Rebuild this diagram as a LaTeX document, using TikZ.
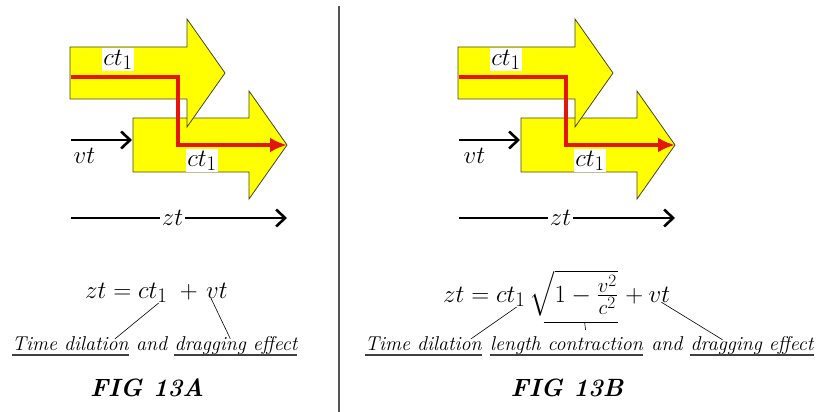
\documentclass[tikz,border=0pt]{standalone}
\usepackage{amsmath}
\usepackage{tikz}
\usetikzlibrary{arrows.meta,positioning,calc}
\definecolor{frameyellow}{RGB}{255,255,0}
\definecolor{frameedge}{RGB}{70,70,30}
\definecolor{lightred}{RGB}{228,22,10}
\definecolor{divgray}{RGB}{85,85,85}

\begin{document}
\begin{tikzpicture}[
  x=1pt, y=-1pt,
  frame/.style={fill=frameyellow, draw=frameedge, line width=0.8pt},
  lightpath/.style={draw=lightred, line width=4pt,
                    -{Latex[length=17pt,width=15pt]}},
  motion/.style={line width=2.6pt, -{Straight Barb[length=9pt,width=17pt]}},
  sym/.style={font=\fontsize{24.88}{30}\selectfont, inner sep=1.5pt},
  eq/.style={font=\fontsize{24.88}{30}\selectfont, inner sep=0pt},
  note/.style={font=\fontsize{20}{24}\selectfont\itshape, inner sep=0pt},
  fig/.style={font=\fontsize{25}{30}\selectfont\bfseries\itshape},
  lead/.style={line width=0.6pt},
  uline/.style={line width=1.2pt, draw=black!75}
]
\useasboundingbox (0,0) rectangle (823,412);

% --- Divider ---
\draw[divgray, line width=1.6pt] (339,6) -- (339,412);

% ===== FIG 13A =====
% --- moving frames ---
\draw[frame] (133,118) -- (249,118) -- (249,91) -- (287,145) -- (249,199)
  -- (249,172) -- (133,172) -- cycle;
\draw[frame] (70,47) -- (187,47) -- (187,19) -- (225,73) -- (187,127)
  -- (187,99) -- (70,99) -- cycle;

\node[sym, fill=white, anchor=north] (ctTopA) at (118,48) {$ct_1$};
\node[sym, fill=white, anchor=north] (ctLowA) at (202,149) {$ct_1$};

% --- light path ---
\coordinate (lpStartA) at (71,77);
\coordinate (lpTurnA) at (178,145);
\coordinate (lpEndA) at (287,145);
\draw[lightpath] (lpStartA) -| (lpTurnA) -- (lpEndA);

% --- vt and zt ---
\coordinate (vtStartA) at (71,140);
\coordinate (vtEndA) at (132,140);
\draw[motion] (vtStartA) -- (vtEndA);
\node[sym, anchor=north west] (vtA) at (72,146) {$vt$};

\coordinate (ztStartA) at (71,218);
\coordinate (ztEndA) at (287,218);
\draw[motion] (ztStartA) -- node[sym, fill=white, pos=0.47] (ztA) {$zt$} (ztEndA);

% --- equation ---
\node[eq, anchor=base west] (eqA) at (85,298) {$zt = ct_1$};
\node[eq, base right=12pt of eqA] (plusA) {$+$};
\node[eq, base right=8pt of plusA] (vtEqA) {$vt$};

\node[note, anchor=base west] (tdA) at (12,350) {Time dilation};
\node[note, base right=7pt of tdA] (andA) {and};
\node[note, base right=7pt of andA] (deA) {dragging effect};
\draw[uline] ([yshift=-5pt]tdA.base west) -- ([yshift=-5pt]tdA.base east);
\draw[uline] ([yshift=-5pt]deA.base west) -- ([yshift=-5pt]deA.base east);

\draw[lead] ([xshift=-9pt]eqA.south east) -- ([xshift=-14pt, yshift=-3pt]tdA.north east);
\draw[lead] ([xshift=5pt]vtEqA.south west) -- ([xshift=56pt, yshift=-3pt]deA.north west);

\node[fig, anchor=base] (figA) at (147,396) {FIG 13A};

% ===== FIG 13B =====
% --- moving frames ---
\draw[frame] (521,118) -- (637,118) -- (637,91) -- (675,145) -- (637,199)
  -- (637,172) -- (521,172) -- cycle;
\draw[frame] (458,47) -- (575,47) -- (575,19) -- (613,73) -- (575,127)
  -- (575,99) -- (458,99) -- cycle;

\node[sym, fill=white, anchor=north] (ctTopB) at (506,48) {$ct_1$};
\node[sym, fill=white, anchor=north] (ctLowB) at (590,149) {$ct_1$};

% --- light path ---
\coordinate (lpStartB) at (459,77);
\coordinate (lpTurnB) at (566,145);
\coordinate (lpEndB) at (675,145);
\draw[lightpath] (lpStartB) -| (lpTurnB) -- (lpEndB);

% --- vt and zt ---
\coordinate (vtStartB) at (459,140);
\coordinate (vtEndB) at (520,140);
\draw[motion] (vtStartB) -- (vtEndB);
\node[sym, anchor=north west] (vtB) at (462,146) {$vt$};

\coordinate (ztStartB) at (459,218);
\coordinate (ztEndB) at (675,218);
\draw[motion] (ztStartB) -- node[sym, fill=white, pos=0.47] (ztB) {$zt$} (ztEndB);

% --- equation ---
\node[eq, anchor=base west] (eqB) at (443,302) {$zt = ct_1$};
\node[eq, base right=4pt of eqB] (rootB) {$\sqrt{1-\frac{v^2}{c^2}}$};
\node[eq, base right=7pt of rootB] (plusB) {$+$};
\node[eq, base right=5pt of plusB] (vtEqB) {$vt$};

\coordinate (barLB) at ([shift={(14pt,-6pt)}]rootB.south west);
\coordinate (barRB) at ([yshift=-6pt]rootB.south east);
\coordinate (barMB) at ($(barLB)!0.55!(barRB)$);
\coordinate (tickB) at ([shift={(1pt,-8pt)}]barMB);
\draw[line width=1pt] (barLB) -- (barRB);
\draw[lead] (barMB) -- (tickB);

\node[note, anchor=base west] (tdB) at (365,350) {Time dilation};
\node[note, base right=8pt of tdB] (lcB) {length contraction};
\node[note, base right=8pt of lcB] (andB) {and};
\node[note, base right=8pt of andB] (deB) {dragging effect};
\draw[uline] ([yshift=-5pt]tdB.base west) -- ([yshift=-5pt]tdB.base east);
\draw[uline] ([yshift=-5pt]lcB.base west) -- ([yshift=-5pt]lcB.base east);
\draw[uline] ([yshift=-5pt]deB.base west) -- ([yshift=-5pt]deB.base east);

\draw[lead] ([xshift=-9pt]eqB.south east) -- ([xshift=-11pt, yshift=-3pt]tdB.north east);
\draw[lead] ([xshift=2pt]vtEqB.south) -- ([xshift=32pt, yshift=-4pt]deB.north west);

\node[fig, anchor=base] (figB) at (567,396) {FIG 13B};
\end{tikzpicture}
\end{document}
